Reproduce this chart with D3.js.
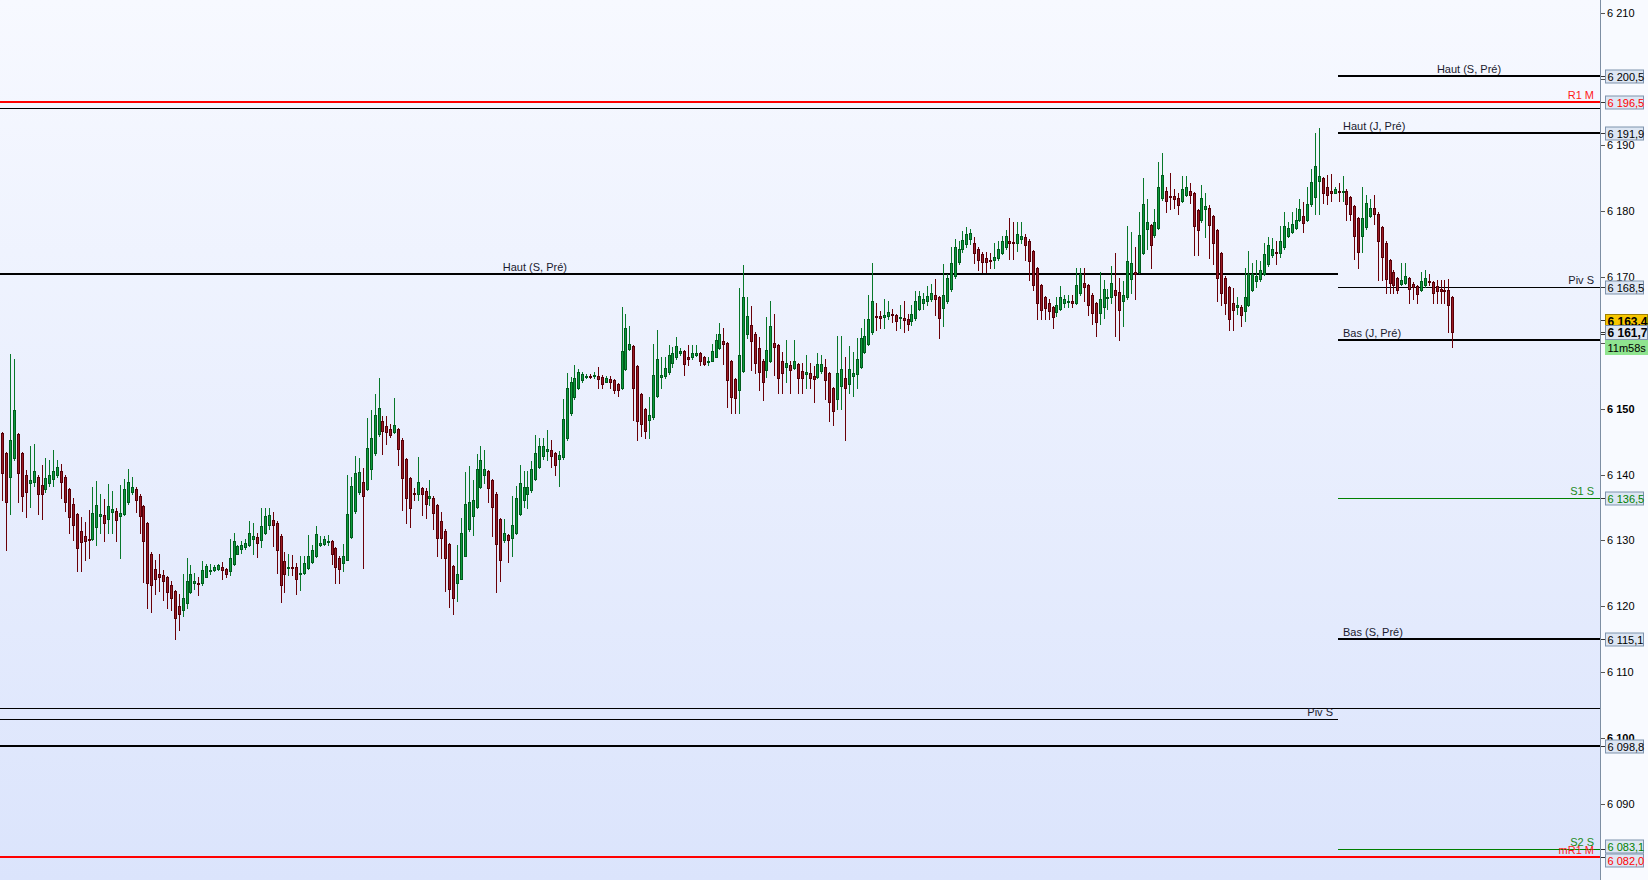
<!DOCTYPE html>
<html><head><meta charset="utf-8">
<script src="https://cdn.jsdelivr.net/npm/d3@7"></script>
<style>html,body{margin:0;padding:0;background:#fff;overflow:hidden}svg{display:block}</style>
</head><body>
<script>
// ---------- DATA (prices) ----------
const opens = [
6146.3,6143.2,6139.6,6142.5,6146.1,6143.2,6140.0,6138.7,6138.8,6139.7,
6138.4,6137.8,6138.7,6139.3,6139.9,6140.5,6139.7,6137.8,6135.6,6134.0,
6131.4,6130.6,6130.2,6130.2,6132.1,6133.7,6133.8,6133.2,6134.3,6134.4,
6133.7,6134.0,6135.8,6137.3,6137.8,6136.8,6135.2,6132.6,6128.0,6125.6,
6124.9,6124.7,6124.4,6123.2,6122.3,6120.1,6119.5,6120.5,6122.1,6123.5,
6123.6,6123.5,6124.5,6125.3,6125.5,6125.6,6125.9,6125.6,6125.3,6126.4,
6128.0,6128.7,6129.0,6129.3,6130.2,6130.5,6130.0,6131.1,6132.4,6133.1,
6132.7,6130.7,6126.8,6125.8,6125.9,6125.9,6125.0,6125.0,6125.8,6126.7,
6127.6,6129.3,6129.5,6129.8,6129.9,6128.8,6127.4,6126.5,6127.1,6130.5,
6134.4,6137.3,6138.9,6137.8,6140.8,6143.2,6146.1,6148.1,6147.4,6146.9,
6146.4,6146.9,6145.3,6142.3,6139.4,6137.2,6137.0,6137.9,6137.5,6136.4,
6136.5,6135.3,6132.9,6131.5,6129.4,6126.1,6123.6,6124.2,6127.7,6131.7,
6133.7,6135.0,6138.1,6140.0,6140.5,6139.1,6137.1,6133.2,6130.1,6130.8,
6130.3,6131.2,6134.0,6136.2,6137.1,6137.6,6139.3,6141.2,6142.8,6143.5,
6143.7,6143.2,6142.3,6142.6,6145.5,6149.3,6151.7,6153.2,6154.3,6154.8,
6155.0,6154.9,6154.9,6154.8,6154.1,6154.5,6154.3,6153.7,6153.2,6156.0,
6159.1,6159.5,6156.4,6152.2,6149.9,6148.2,6148.7,6151.9,6154.8,6154.9,
6155.5,6156.9,6157.8,6158.5,6158.7,6157.8,6157.8,6158.1,6158.4,6157.8,
6157.2,6157.3,6157.9,6159.2,6160.2,6159.9,6157.2,6154.5,6152.9,6155.7,
6161.3,6162.7,6161.4,6159.2,6157.3,6155.8,6157.3,6159.9,6159.6,6157.2,
6156.3,6156.6,6156.1,6156.7,6155.7,6155.2,6155.4,6154.9,6154.8,6155.7,
6156.3,6155.4,6153.1,6151.4,6153.4,6154.6,6153.8,6154.9,6155.2,6156.3,
6158.6,6159.8,6161.6,6164.0,6164.0,6163.9,6164.0,6164.3,6164.2,6163.7,
6163.7,6163.6,6163.3,6163.7,6165.1,6166.0,6166.3,6166.7,6167.2,6166.9,
6165.2,6166.3,6168.1,6170.1,6172.2,6174.3,6175.0,6175.8,6175.2,6174.2,
6173.4,6172.8,6172.5,6172.5,6172.8,6173.6,6174.5,6175.4,6175.3,6175.2,
6175.8,6176.0,6175.5,6173.9,6171.3,6168.7,6166.9,6166.0,6165.4,6164.6,
6165.1,6166.0,6166.2,6166.3,6166.1,6167.5,6169.0,6168.7,6167.3,6166.0,
6164.5,6165.5,6166.9,6166.9,6168.0,6167.7,6166.3,6166.9,6169.6,6170.8,
6170.8,6173.6,6177.2,6177.8,6176.3,6177.4,6181.9,6183.0,6182.3,6182.3,
6181.9,6181.5,6182.4,6183.0,6182.7,6180.1,6178.6,6180.3,6180.4,6179.2,
6177.1,6173.6,6169.9,6168.4,6166.0,6165.5,6165.5,6164.8,6165.8,6168.0,
6169.3,6169.6,6170.5,6171.9,6173.3,6173.7,6173.6,6174.5,6176.2,6176.8,
6177.4,6178.7,6179.3,6178.7,6181.0,6182.1,6184.5,6185.0,6183.7,6183.0,
6182.8,6183.1,6183.0,6183.1,6182.1,6180.7,6178.9,6176.2,6177.5,6179.3,
6180.4,6179.6,6177.5,6175.2,6172.5,6170.8,6169.8,6168.9,6169.0,6169.8,
6168.9,6168.6,6168.0,6168.7,6169.3,6169.2,6168.6,6168.1,6168.0,6168.0,6166.9];
const highs = [
6146.5,6143.4,6158.3,6157.5,6146.3,6143.4,6140.7,6144.3,6144.7,6139.9,
6141.4,6142.5,6142.2,6143.7,6142.2,6141.6,6139.9,6138.0,6136.5,6134.2,
6133.6,6132.8,6134.6,6138.1,6139.0,6137.0,6136.3,6138.6,6137.5,6134.9,
6138.4,6139.3,6140.8,6139.6,6138.1,6137.0,6135.3,6132.8,6128.2,6127.0,
6128.0,6125.5,6124.6,6123.9,6122.5,6121.8,6124.9,6127.3,6126.2,6125.0,
6124.5,6126.8,6126.4,6126.4,6126.2,6126.4,6126.7,6125.8,6130.2,6131.2,
6129.3,6129.9,6130.2,6133.0,6132.6,6131.1,6134.9,6134.9,6134.9,6134.3,
6132.9,6130.9,6128.3,6127.9,6127.8,6126.5,6127.7,6127.7,6130.8,6129.3,
6132.2,6130.7,6130.7,6130.8,6130.1,6129.0,6127.6,6129.5,6139.9,6139.7,
6142.8,6142.5,6141.0,6148.6,6149.8,6152.2,6154.6,6148.9,6148.9,6147.7,
6151.6,6147.1,6145.5,6142.5,6139.6,6137.9,6142.7,6138.1,6137.9,6139.2,
6136.8,6135.5,6134.3,6131.8,6129.6,6126.3,6129.3,6133.4,6140.4,6141.3,
6139.2,6143.1,6144.3,6143.7,6140.7,6139.3,6137.3,6133.4,6133.2,6131.0,
6136.8,6138.3,6141.4,6140.6,6140.6,6142.0,6146.0,6145.6,6145.6,6146.7,
6145.2,6143.4,6143.5,6151.4,6155.4,6154.8,6156.6,6156.0,6155.5,6155.2,
6155.2,6155.5,6156.3,6155.1,6154.9,6154.9,6154.5,6153.9,6165.4,6164.3,
6162.5,6159.7,6156.6,6152.4,6150.1,6151.7,6159.8,6162.0,6157.8,6157.8,
6159.6,6159.3,6160.8,6159.2,6158.9,6159.6,6159.6,6159.6,6158.6,6158.0,
6157.8,6159.8,6161.4,6163.0,6162.3,6160.1,6157.4,6154.7,6168.3,6171.8,
6166.9,6165.6,6161.6,6160.8,6157.5,6163.9,6166.3,6164.3,6159.8,6158.6,
6160.4,6157.3,6160.4,6156.9,6157.0,6158.1,6156.9,6156.4,6158.4,6158.1,
6157.5,6155.6,6153.3,6161.0,6161.0,6157.9,6159.5,6158.6,6160.7,6162.2,
6163.6,6167.2,6172.1,6166.1,6164.8,6166.6,6166.4,6165.1,6164.4,6165.7,
6166.3,6164.3,6165.8,6167.8,6167.8,6167.5,6168.6,6168.9,6169.7,6167.1,
6172.0,6170.4,6174.5,6175.8,6175.5,6177.0,6177.5,6177.2,6176.0,6174.5,
6173.7,6173.7,6173.6,6175.1,6175.4,6176.2,6177.1,6179.0,6178.4,6178.3,
6178.3,6176.5,6175.7,6174.1,6171.5,6168.9,6167.1,6166.6,6165.6,6167.0,
6168.6,6167.2,6167.2,6167.2,6171.3,6171.3,6171.3,6168.9,6167.5,6166.2,
6170.7,6169.5,6168.1,6171.6,6173.6,6169.8,6169.3,6177.7,6176.8,6174.5,
6179.9,6185.0,6181.8,6178.0,6180.3,6187.4,6188.8,6183.7,6185.7,6183.4,
6182.7,6185.3,6185.3,6184.3,6182.9,6180.3,6184.0,6182.8,6180.9,6179.4,
6177.3,6173.8,6170.1,6168.6,6168.3,6167.0,6165.7,6171.4,6173.9,6172.1,
6172.5,6172.4,6175.2,6176.0,6175.9,6175.4,6177.7,6179.8,6178.4,6179.8,
6180.4,6181.8,6181.3,6183.7,6186.3,6191.8,6192.6,6185.2,6185.4,6185.6,
6183.6,6184.2,6185.3,6183.3,6182.3,6180.9,6179.1,6183.7,6182.5,6181.8,
6182.4,6179.8,6177.7,6175.4,6172.7,6171.0,6170.0,6172.1,6172.1,6170.0,
6169.2,6168.8,6170.7,6171.1,6170.5,6169.3,6169.5,6169.5,6169.5,6169.6,6167.1];
const lows = [
6136.1,6128.5,6134.0,6142.2,6135.9,6134.4,6133.6,6135.1,6138.3,6134.0,
6133.2,6137.4,6138.3,6138.3,6139.6,6136.5,6134.5,6131.2,6130.0,6125.4,
6125.4,6127.0,6127.4,6130.0,6129.3,6131.2,6129.9,6131.2,6131.2,6129.9,
6127.3,6133.8,6135.6,6137.0,6134.3,6131.2,6123.7,6119.8,6119.2,6121.8,
6122.3,6121.0,6119.8,6119.5,6115.0,6116.4,6118.5,6119.8,6122.0,6122.7,
6121.7,6123.3,6124.4,6124.9,6125.3,6125.5,6124.1,6124.5,6124.7,6126.2,
6127.9,6128.1,6128.7,6129.1,6128.0,6127.5,6129.0,6130.9,6131.8,6129.1,
6125.1,6120.7,6122.1,6124.7,6124.7,6121.8,6122.4,6124.9,6125.6,6126.5,
6127.5,6129.1,6129.3,6129.3,6126.4,6123.6,6123.6,6125.4,6127.0,6130.3,
6134.2,6137.1,6125.8,6137.6,6139.3,6143.0,6145.9,6143.1,6144.6,6145.7,
6146.3,6141.5,6134.6,6132.6,6132.1,6136.1,6136.1,6133.8,6133.4,6135.3,
6131.8,6127.7,6127.3,6122.3,6119.9,6118.8,6120.8,6124.1,6127.6,6131.5,
6130.8,6134.9,6137.9,6138.7,6135.8,6130.7,6122.1,6123.9,6129.7,6126.7,
6127.7,6131.0,6133.8,6135.0,6134.9,6137.4,6139.1,6141.0,6142.3,6142.2,
6141.2,6139.9,6138.2,6142.4,6145.3,6149.1,6151.5,6153.0,6154.1,6154.6,
6154.6,6154.6,6153.2,6153.2,6154.0,6153.2,6152.3,6151.9,6153.0,6155.8,
6158.9,6148.2,6145.3,6145.8,6145.6,6145.6,6148.5,6151.7,6153.2,6154.6,
6155.3,6156.3,6157.6,6158.1,6155.1,6156.6,6157.6,6158.0,6156.6,6156.6,
6156.6,6157.2,6157.8,6159.0,6156.7,6150.2,6149.4,6149.3,6149.4,6155.5,
6160.7,6155.8,6155.4,6152.8,6151.3,6154.8,6157.1,6155.1,6152.3,6152.3,
6154.0,6152.3,6156.0,6152.3,6152.3,6153.1,6153.1,6151.0,6154.6,6155.4,
6151.4,6148.1,6147.5,6149.9,6149.9,6145.3,6152.3,6151.9,6153.1,6156.1,
6158.4,6159.6,6161.4,6161.9,6162.2,6162.3,6163.6,6163.1,6161.9,6162.2,
6161.6,6161.9,6162.7,6163.5,6164.9,6165.1,6165.8,6166.4,6164.2,6160.7,
6162.5,6166.1,6167.9,6169.9,6172.0,6173.8,6174.5,6175.0,6172.1,6171.0,
6170.8,6170.8,6171.3,6171.3,6172.6,6173.4,6174.3,6172.7,6172.7,6173.9,
6175.2,6172.5,6169.5,6168.0,6163.6,6163.6,6163.6,6163.6,6162.2,6164.0,
6164.9,6165.5,6165.5,6165.5,6165.9,6167.3,6166.3,6164.2,6162.8,6161.1,
6162.9,6163.7,6165.1,6166.0,6161.1,6160.4,6162.6,6166.7,6167.5,6166.7,
6170.6,6173.4,6174.2,6171.4,6176.1,6177.2,6181.7,6179.8,6180.3,6180.4,
6179.5,6181.3,6182.2,6181.2,6173.3,6173.3,6178.4,6176.0,6172.8,6171.9,
6166.3,6165.8,6164.3,6161.9,6161.9,6164.3,6162.5,6163.3,6165.6,6167.8,
6168.4,6169.4,6170.3,6171.7,6173.0,6171.9,6173.0,6174.3,6176.0,6176.6,
6177.2,6178.5,6176.8,6178.5,6180.8,6179.5,6179.5,6181.2,6181.0,6181.5,
6182.7,6181.5,6181.5,6178.6,6178.6,6172.7,6171.3,6173.7,6177.3,6179.1,
6178.0,6169.5,6169.5,6167.5,6167.5,6167.5,6167.5,6168.7,6168.9,6166.1,
6166.6,6166.1,6167.8,6168.5,6168.7,6166.1,6166.1,6166.1,6166.0,6161.6,6159.3];
const closes = [
6140.3,6135.9,6145.2,6149.8,6140.2,6136.8,6137.3,6139.2,6140.5,6137.0,
6137.1,6139.4,6139.9,6140.5,6141.1,6138.8,6135.8,6133.5,6132.4,6128.8,
6129.7,6129.9,6130.1,6134.1,6135.3,6134.0,6132.6,6135.2,6134.7,6133.1,
6134.1,6137.8,6138.8,6138.1,6136.1,6133.7,6129.9,6123.6,6123.2,6124.1,
6124.5,6123.9,6122.1,6121.2,6118.2,6118.8,6121.2,6123.8,6124.9,6123.8,
6123.5,6125.5,6126.1,6125.5,6125.9,6126.2,6125.5,6124.9,6127.3,6129.9,
6129.1,6129.3,6129.6,6131.1,6130.7,6129.6,6132.2,6133.7,6133.9,6132.4,
6128.5,6123.2,6124.9,6125.9,6125.8,6124.1,6125.1,6126.5,6127.6,6128.5,
6131.0,6129.6,6130.2,6129.9,6127.9,6125.9,6125.6,6127.6,6134.0,6138.3,
6140.2,6140.4,6136.7,6144.0,6145.6,6149.0,6150.1,6146.6,6146.4,6146.0,
6147.5,6143.8,6139.4,6136.4,6134.9,6137.0,6138.9,6137.0,6135.5,6136.7,
6134.1,6130.3,6130.3,6127.3,6122.7,6121.2,6124.9,6131.1,6135.6,6135.8,
6136.2,6140.9,6142.2,6140.8,6137.9,6135.1,6129.4,6127.1,6131.2,6130.0,
6132.3,6136.5,6138.7,6138.1,6138.1,6140.8,6143.2,6144.3,6144.3,6143.8,
6142.8,6141.5,6142.9,6148.4,6153.1,6154.1,6154.6,6155.5,6155.2,6154.9,
6154.9,6155.1,6154.5,6153.7,6154.6,6154.1,6152.9,6152.8,6158.7,6162.3,
6159.8,6153.2,6148.1,6147.6,6146.6,6149.1,6155.1,6157.6,6155.1,6156.1,
6158.2,6158.5,6159.5,6158.7,6156.7,6157.6,6158.5,6158.5,6157.3,6156.7,
6157.3,6158.7,6160.4,6161.3,6159.8,6154.3,6151.7,6151.6,6158.2,6166.9,
6164.0,6160.2,6157.0,6155.5,6154.1,6158.9,6162.5,6159.3,6154.6,6155.4,
6156.9,6155.8,6157.2,6154.6,6154.6,6155.5,6154.6,6154.5,6156.7,6156.7,
6154.3,6151.0,6149.6,6155.4,6156.0,6153.1,6156.0,6155.4,6157.5,6160.7,
6161.0,6163.6,6166.4,6163.9,6163.7,6164.2,6164.6,6164.2,6163.3,6163.9,
6163.4,6162.8,6164.3,6166.3,6167.1,6166.7,6167.1,6167.5,6166.6,6163.7,
6167.2,6169.9,6172.1,6174.5,6174.3,6175.6,6176.5,6176.6,6173.6,6172.5,
6172.2,6172.2,6172.4,6173.0,6174.3,6175.4,6176.2,6175.2,6175.2,6176.5,
6176.2,6174.9,6172.4,6168.7,6166.1,6164.9,6165.2,6164.8,6163.9,6165.7,
6166.9,6166.6,6166.3,6166.1,6168.7,6170.5,6168.4,6165.8,6164.5,6163.1,
6166.6,6168.1,6167.0,6169.0,6167.2,6164.9,6167.3,6172.4,6172.1,6170.5,
6176.3,6181.0,6178.3,6174.9,6178.3,6183.7,6185.4,6181.5,6182.1,6181.8,
6180.9,6183.3,6183.6,6182.4,6177.7,6177.1,6181.9,6180.7,6177.8,6175.1,
6169.9,6167.5,6166.0,6163.6,6164.9,6165.7,6164.2,6166.9,6170.5,6170.5,
6170.1,6171.0,6173.4,6174.8,6174.2,6173.6,6175.4,6177.7,6177.4,6178.0,
6178.7,6180.3,6178.1,6181.0,6184.4,6186.9,6185.3,6182.7,6182.5,6182.8,
6183.4,6183.0,6183.1,6181.0,6179.5,6176.2,6173.7,6178.9,6181.2,6180.4,
6179.5,6175.4,6173.0,6169.6,6169.0,6168.7,6168.0,6169.5,6170.2,6168.1,
6168.4,6167.4,6169.3,6169.9,6169.2,6167.5,6167.8,6167.8,6167.9,6165.8,6161.7];

// tick values; 6160 and 6200 are covered by price tags in the picture and carry no visible label
const yTickValues = [6090,6100,6110,6120,6130,6140,6150,6160,6170,6180,6190,6200,6210];
const yTickHiddenLabels = [6160, 6200];
const levelValues = [6200.5, 6196.5, 6195.6, 6191.9, 6170.5, 6168.5, 6160.4, 6136.5, 6115.1, 6104.5, 6102.85, 6098.8, 6083.1, 6082.0];
const levelNames  = ["Haut (S, Pré)", "R1 M", "", "Haut (J, Pré)", "Haut (S, Pré)", "Piv S", "Bas (J, Pré)", "S1 S", "Bas (S, Pré)", "", "Piv S", "", "S2 S", "mR1 M"];
const levelTagged = [true, true, false, true, false, true, false, true, true, false, false, true, true, true];
const askPrice = 6163.4;
const lastPrice = 6161.7;
const countdownText = "11m58s";
const sessionStartBar = 340.8;   // bar index where the current-day levels begin
const oldWeekLabelBar = 135.9;   // bar index where the previous-week label sits

// ---------- STYLES ----------
const levelStyle = [
  {color:"#000", width:2, extent:"session", anchor:"center"},
  {color:"#ff0000", width:2, extent:"all", anchor:"right"},
  {color:"#000", width:1, extent:"all", anchor:null},
  {color:"#000", width:2, extent:"session", anchor:"left"},
  {color:"#000", width:2, extent:"before", anchor:"bar"},
  {color:"#000", width:1, extent:"session", anchor:"right"},
  {color:"#000", width:2, extent:"session", anchor:"left"},
  {color:"#008000", width:1, extent:"session", anchor:"right"},
  {color:"#000", width:2, extent:"session", anchor:"left"},
  {color:"#000", width:1, extent:"all", anchor:null},
  {color:"#000", width:1, extent:"before", anchor:"rightBefore"},
  {color:"#000", width:2, extent:"all", anchor:null},
  {color:"#008000", width:1, extent:"session", anchor:"right"},
  {color:"#ff0000", width:2, extent:"all", anchor:"right"}
];
const labelColor = c => c === "#000" ? "#1a1a2e" : (c === "#ff0000" ? "#ff1a1a" : "#1a8a1a");
const FONT = "'Liberation Sans', Arial, sans-serif";

const W = 1648, H = 880, plotRight = 1600;
const svg = d3.select("body").append("svg").attr("width", W).attr("height", H)
  .style("font-family", FONT).style("font-size", "11px");

const x = d3.scaleLinear().domain([-0.6, 407.7]).range([0, plotRight]);
const y = d3.scaleLinear().domain([6078.46, 6212.02]).range([H, 0]);

// background
const defs = svg.append("defs");
const g1 = defs.append("linearGradient").attr("id","bg").attr("x1",0).attr("y1",0).attr("x2",0).attr("y2",1);
g1.append("stop").attr("offset","0%").attr("stop-color","#f7f9ff");
g1.append("stop").attr("offset","100%").attr("stop-color","#dbe4fc");
svg.append("rect").attr("width", W).attr("height", H).attr("fill", "#f8faff");
svg.append("rect").attr("width", plotRight).attr("height", H).attr("fill", "url(#bg)");

// ---------- LEVEL LINES ----------
const gLev = svg.append("g");
const sessX = x(sessionStartBar);
levelValues.forEach((v, i) => {
  const st = levelStyle[i];
  const yy = st.width % 2 === 1 ? Math.round(y(v)) + 0.5 : Math.round(y(v));
  const x0 = st.extent === "session" ? Math.round(sessX) : 0;
  const x1 = st.extent === "before" ? Math.round(sessX) : plotRight;
  gLev.append("line").attr("x1", x0).attr("x2", x1).attr("y1", yy).attr("y2", yy)
    .attr("stroke", st.color).attr("stroke-width", st.width);
  const name = levelNames[i];
  if (!name || !st.anchor) return;
  let tx, ta;
  if (st.anchor === "center") { tx = (x0 + x1) / 2; ta = "middle"; }
  else if (st.anchor === "left") { tx = x0 + 5; ta = "start"; }
  else if (st.anchor === "right") { tx = plotRight - 6; ta = "end"; }
  else if (st.anchor === "rightBefore") { tx = x1 - 5; ta = "end"; }
  else { tx = x(oldWeekLabelBar); ta = "middle"; }
  gLev.append("text").attr("x", tx).attr("y", Math.round(y(v)) - 3).attr("text-anchor", ta)
    .attr("fill", labelColor(st.color)).text(name);
});

// ---------- CANDLES ----------
const upFill = "#0c9a3c", upLine = "#005c1c", upWick = "#08782a";
const dnFill = "#9a1a24", dnLine = "#560008", dnWick = "#6a0008";
const gC = svg.append("g");
opens.forEach((o, i) => {
  const c = closes[i], h = highs[i], l = lows[i];
  const up = c >= o;
  const cx = Math.round(x(i));
  gC.append("line").attr("x1", cx + 0.5).attr("x2", cx + 0.5)
    .attr("y1", Math.round(y(h))).attr("y2", Math.round(y(l)) + 1)
    .attr("stroke", up ? upWick : dnWick).attr("stroke-width", 1);
  const top = Math.round(y(Math.max(o, c))), bot = Math.round(y(Math.min(o, c)));
  gC.append("rect").attr("x", cx - 0.5).attr("y", top + 0.5)
    .attr("width", 2).attr("height", Math.max(bot - top, 1))
    .attr("fill", up ? upFill : dnFill).attr("stroke", up ? upLine : dnLine).attr("stroke-width", 1);
});

// ---------- RIGHT AXIS ----------
const fr = d3.formatLocale({decimal: ",", thousands: " ", grouping: [3], currency: ["", ""]});
const fTick = fr.format(",.0f"), fVal = fr.format(",.1f");
const gA = svg.append("g");
gA.append("line").attr("x1", plotRight + 0.5).attr("x2", plotRight + 0.5).attr("y1", 0).attr("y2", H)
  .attr("stroke", "#7d8ea3").attr("stroke-width", 1);
yTickValues.forEach(t => {
  const yy = Math.round(y(t)) + 0.5;
  gA.append("line").attr("x1", plotRight + 1).attr("x2", plotRight + 5).attr("y1", yy).attr("y2", yy)
    .attr("stroke", "#555").attr("stroke-width", 1);
  if (yTickHiddenLabels.includes(t)) return;
  gA.append("text").attr("x", plotRight + 7).attr("y", yy).attr("dy", "0.35em")
    .attr("fill", "#000").attr("font-weight", t % 50 === 0 ? "bold" : "normal").text(fTick(t));
});

// value tags for levels, with simple overlap avoidance
const tags = [];
levelValues.forEach((v, i) => {
  if (!levelTagged[i]) return;
  const c = levelStyle[i].color;
  tags.push({v, y: y(v), color: c === "#000" ? "#000" : (c === "#ff0000" ? "#ff0000" : "#008000")});
});
tags.sort((a, b) => a.y - b.y);
const TH = 13;
for (let k = 1; k < tags.length; k++) {
  const gap = tags[k].y - tags[k-1].y;
  if (gap < TH + 1) { const d = (TH + 1 - gap) / 2; tags[k-1].y -= d; tags[k].y += d; }
}
function tag(yc, text, opts) {
  const yy = Math.round(yc);
  const h = opts.h || TH;
  const g = gA.append("g");
  g.append("line").attr("x1", plotRight + 1).attr("x2", plotRight + 5).attr("y1", Math.round(opts.lineY) + 0.5).attr("y2", Math.round(opts.lineY) + 0.5)
    .attr("stroke", "#333");
  g.append("rect").attr("x", plotRight + 5.5).attr("y", yy - h / 2 + 0.5).attr("width", opts.w || 38).attr("height", h)
    .attr("fill", opts.fill || "#dde6f3").attr("stroke", opts.stroke || "#7f93ad");
  g.append("text").attr("x", plotRight + 7.5).attr("y", yy + 1).attr("dy", "0.36em")
    .attr("fill", opts.color || "#000").attr("font-weight", opts.bold ? "bold" : "normal")
    .style("font-size", opts.size || "11px").text(text);
}
tags.forEach(t => tag(t.y, fVal(t.v), {color: t.color, lineY: y(t.v)}));
tag(y(askPrice) + 1, fVal(askPrice), {fill: "#f7c600", stroke: "#a08000", bold: true, lineY: y(askPrice), w: 42, h: 14, size: "12px"});
tag(y(lastPrice), fVal(lastPrice), {bold: true, lineY: y(lastPrice), w: 42, h: 14, size: "12px"});
tag(y(lastPrice) + 15, countdownText, {fill: "#8fe48f", stroke: "#8fe48f", lineY: y(lastPrice) + 2, w: 42, h: 14});
</script>
</body></html>
